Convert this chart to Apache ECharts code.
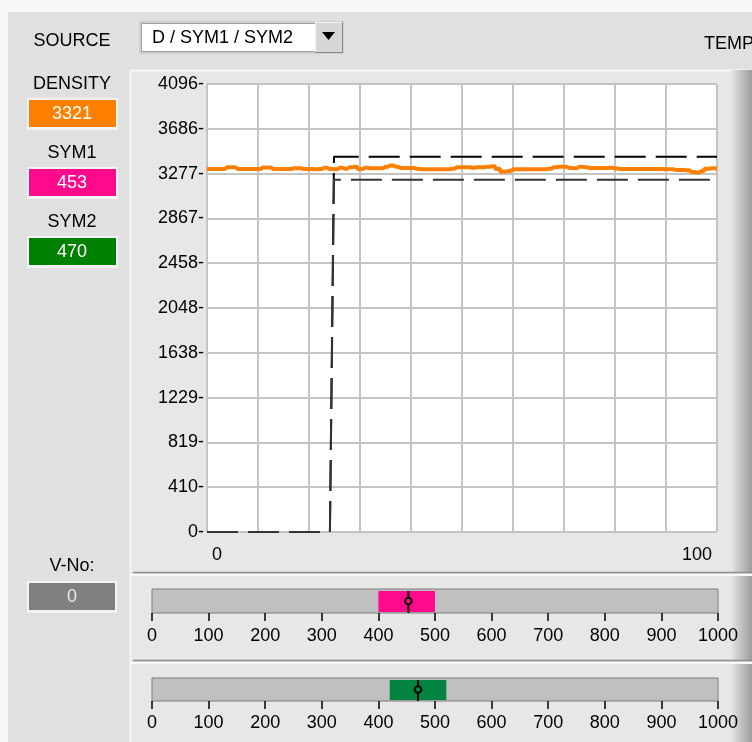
<!DOCTYPE html>
<html>
<head>
<meta charset="utf-8">
<script src="https://cdn.jsdelivr.net/npm/echarts@6/dist/echarts.min.js"></script>
<style>html,body{margin:0;padding:0;background:#f5f5f5;}#c{width:752px;height:742px;}</style>
</head>
<body>
<div id="c"></div>
<script>
// ---- data ----
const densityX = [];
for (let i = 0; i <= 100; i++) densityX.push(i);
const densityY = [3319,3319,3319,3319,3336,3336,3319,3319,3319,3319,3319,3333,3333,3319,3319,3319,3319,3326,3326,3319,
  3319,3316,3319,3330,3319,3316,3330,3322,3336,3340,3319,3330,3326,3325,3325,3340,3352,3340,3328,3328,
  3328,3322,3316,3316,3316,3316,3316,3316,3322,3334,3334,3334,3330,3334,3334,3340,3345,3318,3294,3300,
  3316,3316,3316,3316,3316,3316,3316,3322,3334,3340,3340,3328,3325,3340,3336,3328,3328,3328,3328,3330,
  3324,3318,3318,3318,3318,3318,3320,3318,3318,3318,3316,3316,3310,3310,3308,3292,3288,3300,3322,3325,3322];
const upperX = [0, 24.1, 24.9, 100];
const upperY = [0, 0, 3432, 3432];
const lowerX = [0, 24.1, 24.9, 100];
const lowerY = [0, 0, 3220, 3220];
const yTicks = [0, 410, 819, 1229, 1638, 2048, 2458, 2867, 3277, 3686, 4096];
const sym1Range = [400, 500];
const sym1Value = 453;
const sym2Range = [420, 520];
const sym2Value = 470;
const displayLabels = ['DENSITY', 'SYM1', 'SYM2'];
const displayValues = ['3321', '453', '470'];
const vNo = '0';
const sourceText = 'D / SYM1 / SYM2';

const FONT = '"Liberation Sans", Arial, sans-serif';
const C_ORANGE = '#ff8000', C_PINK = '#ff0a8c', C_GREEN = '#008000', C_GREEN2 = '#00843f';

function zip(xs, ys) { return xs.map((x, i) => [x, ys[i]]); }

const chart = echarts.init(document.getElementById('c'), null, {renderer: 'canvas', width: 752, height: 742});

function txt(x, y, s, opt) {
  return Object.assign({type: 'text', z: 5, x: x, y: y,
    style: Object.assign({text: s, font: '18px ' + FONT, fill: '#000', align: 'center', verticalAlign: 'middle'}, opt || {})});
}
function rect(x, y, w, h, fill, z, extra) {
  return Object.assign({type: 'rect', z: z == null ? -10 : z, shape: {x: x, y: y, width: w, height: h}, style: {fill: fill}, silent: true}, extra || {});
}
function line(x1, y1, x2, y2, stroke, w, z) {
  return {type: 'line', z: z == null ? -9 : z, shape: {x1: x1, y1: y1, x2: x2, y2: y2}, style: {stroke: stroke, lineWidth: w}, silent: true};
}
const grad = {type: 'linear', x: 0, y: 0, x2: 1, y2: 0, colorStops: [{offset: 0, color: '#e2e2e2'}, {offset: 1, color: '#9c9c9c'}]};

const graphics = [
  rect(0, 0, 752, 742, '#f6f6f6', -20),
  rect(8, 11, 744, 731, '#e0e0e0', -19),
  line(8, 11.5, 752, 11.5, '#fbfbfb', 1, -18),
  // chart panel
  rect(130, 70, 622, 502, '#e7e7e7', -15),
  line(130, 70.5, 752, 70.5, '#f8f8f8', 2, -14),
  line(130.5, 70, 130.5, 742, '#f3f3f3', 2, -14),
  {type: 'rect', z: -13, shape: {x: 732, y: 70, width: 20, height: 502}, style: {fill: grad}, silent: true},
  // slider panels
  line(133, 572.5, 752, 572.5, '#8e8e8e', 1.5, -12),
  rect(131, 574, 621, 85, '#e7e7e7', -15),
  line(131, 575, 752, 575, '#f7f7f7', 2, -14),
  {type: 'rect', z: -13, shape: {x: 732, y: 576, width: 20, height: 84}, style: {fill: grad}, silent: true},
  line(133, 660.5, 752, 660.5, '#8e8e8e', 1.5, -12),
  rect(131, 662, 621, 80, '#e7e7e7', -15),
  line(131, 663, 752, 663, '#f7f7f7', 2, -14),
  {type: 'rect', z: -13, shape: {x: 732, y: 664, width: 20, height: 78}, style: {fill: grad}, silent: true},
  // dropdown
  rect(139, 21, 205, 33, '#cfcfcf', 1),
  rect(141, 23, 174, 29, '#a0a0a0', 1),
  rect(142, 24, 173, 27, '#ffffff', 1),
  rect(315, 22, 28, 31, '#d6d6d6', 1),
  line(315, 22.5, 343, 22.5, '#f4f4f4', 1, 2),
  line(315.5, 22, 315.5, 53, '#f4f4f4', 1, 2),
  line(315, 52.5, 343, 52.5, '#8a8a8a', 1, 2),
  line(342.5, 22, 342.5, 53, '#8a8a8a', 1, 2),
  {type: 'polygon', z: 3, shape: {points: [[322, 32], [335, 32], [328.5, 40]]}, style: {fill: '#000'}, silent: true},
  txt(152, 38, sourceText, {align: 'left'}),
  txt(72, 41, 'SOURCE'),
  txt(704, 44, 'TEMP', {align: 'left'})
];
// value displays
const boxY = [100, 169, 238];
const labelY = [84, 153, 222];
const boxColors = [C_ORANGE, C_PINK, C_GREEN];
displayLabels.forEach((lab, i) => {
  graphics.push(txt(72, labelY[i], lab));
  graphics.push(rect(27, boxY[i] - 2, 91, 32, '#f4f4f4', 1));
  graphics.push(rect(29, boxY[i], 87, 27, boxColors[i], 2));
  graphics.push(txt(72, boxY[i] + 14, displayValues[i], {fill: '#ffffff'}));
});
graphics.push(txt(72, 566, 'V-No:'));
graphics.push(rect(27, 581, 90, 32, '#f4f4f4', 1));
graphics.push(rect(29, 583, 86, 27, '#808080', 2));
graphics.push(txt(72, 597, vNo, {fill: '#e8e8e8'}));

function rangeRender(params, api) {
  const lo = api.value(0), hi = api.value(1), v = api.value(2);
  const color = api.value(3) === 1 ? C_PINK : C_GREEN2;
  const a = api.coord([lo, 1]);
  const b = api.coord([hi, 0]);
  const m = api.coord([v, 0.5]);
  const top = a[1] + 2, bot = b[1] - 1;
  return {
    type: 'group',
    children: [
      {type: 'rect', shape: {x: a[0], y: top, width: b[0] - a[0], height: bot - top}, style: {fill: color}},
      {type: 'line', shape: {x1: m[0], y1: a[1] + 2, x2: m[0], y2: b[1]}, style: {stroke: '#000', lineWidth: 2}},
      {type: 'circle', shape: {cx: m[0], cy: m[1], r: 3.3}, style: {fill: color, stroke: '#000', lineWidth: 2}}
    ]
  };
}

const sliderXAxis = (gi, margin) => ({
  type: 'value', gridIndex: gi, min: 0, max: 1000, interval: 100, position: 'bottom', offset: 2,
  axisLine: {show: false},
  axisTick: {show: true, length: 8, lineStyle: {color: '#000', width: 1.5}},
  axisLabel: {color: '#000', fontSize: 18, fontFamily: FONT, margin: margin, formatter: v => String(Math.round(v))},
  splitLine: {show: false}
});

const option = {
  animation: false,
  backgroundColor: 'transparent',
  graphic: {elements: graphics},
  grid: [
    {left: 207, top: 84, width: 510, height: 448, show: true, backgroundColor: '#ffffff', borderWidth: 0},
    {left: 152, top: 589, width: 566, height: 24, show: true, backgroundColor: '#c0c0c0', borderColor: '#7c7c7c', borderWidth: 1},
    {left: 152, top: 678, width: 566, height: 23, show: true, backgroundColor: '#c0c0c0', borderColor: '#7c7c7c', borderWidth: 1}
  ],
  xAxis: [
    {type: 'value', gridIndex: 0, min: 0, max: 100, interval: 10,
      axisLine: {show: false}, axisTick: {show: false},
      splitLine: {show: true, lineStyle: {color: '#c4c4c4', width: 2}},
      axisLabel: {color: '#000', fontSize: 18, fontFamily: FONT, margin: 14, padding: [0, 5, 0, 5],
        showMinLabel: true, showMaxLabel: true, alignMinLabel: 'left', alignMaxLabel: 'right',
        formatter: v => (v === 0 || v === 100) ? String(v) : ''}},
    sliderXAxis(1, 12),
    sliderXAxis(2, 11)
  ],
  yAxis: [
    {type: 'value', gridIndex: 0, min: 0, max: 4096, interval: 409.6,
      axisLine: {show: false}, axisTick: {show: false},
      splitLine: {show: true, lineStyle: {color: '#c4c4c4', width: 2}},
      axisLabel: {color: '#000', fontSize: 18, fontFamily: FONT, margin: 3,
        formatter: v => {
          const r = Math.round(v);
          let best = yTicks[0];
          yTicks.forEach(t => { if (Math.abs(t - r) < Math.abs(best - r)) best = t; });
          return best + '-';
        }}},
    {type: 'value', gridIndex: 1, min: 0, max: 1, show: false},
    {type: 'value', gridIndex: 2, min: 0, max: 1, show: false}
  ],
  series: [
    {type: 'line', xAxisIndex: 0, yAxisIndex: 0, data: zip(upperX, upperY), symbol: 'none', z: 3,
      lineStyle: {color: '#000', width: 2, type: [31, 10]}},
    {type: 'line', xAxisIndex: 0, yAxisIndex: 0, data: zip(lowerX, lowerY), symbol: 'none', z: 3,
      lineStyle: {color: '#333', width: 2, type: [31, 10]}},
    {type: 'line', xAxisIndex: 0, yAxisIndex: 0, data: zip(densityX, densityY), symbol: 'none', step: 'middle', z: 4,
      lineStyle: {color: C_ORANGE, width: 4}},
    {type: 'custom', xAxisIndex: 1, yAxisIndex: 1, renderItem: rangeRender, z: 3,
      data: [[sym1Range[0], sym1Range[1], sym1Value, 1]]},
    {type: 'custom', xAxisIndex: 2, yAxisIndex: 2, renderItem: rangeRender, z: 3,
      data: [[sym2Range[0], sym2Range[1], sym2Value, 2]]}
  ]
};
chart.setOption(option);
</script>
</body>
</html>
